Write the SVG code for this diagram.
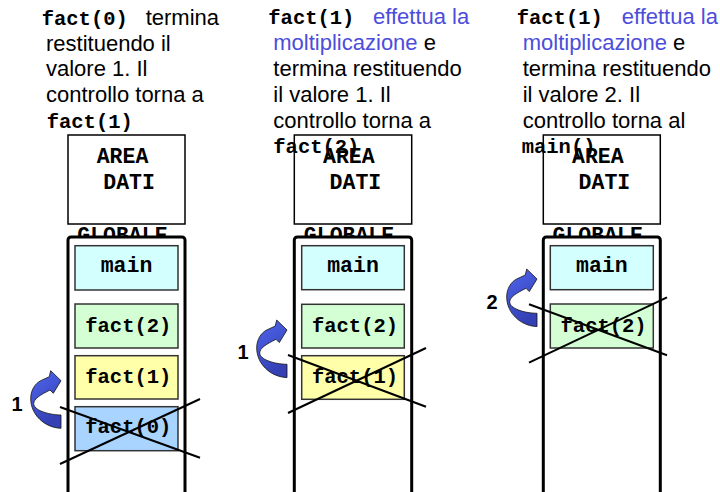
<svg xmlns="http://www.w3.org/2000/svg" width="720" height="492" viewBox="0 0 720 492">
<defs>
<linearGradient id="ag" x1="0" y1="0" x2="0.4" y2="1">
<stop offset="0" stop-color="#4f66ee"/>
<stop offset="1" stop-color="#3440b4"/>
</linearGradient>
<path id="carrow" d="M30.3,57.6 C14,57 0,44 0,28 C0,20 4,13 10,10 L18.6,6 L20,0 L30.3,10 L22.6,22.6 L19.3,19.3 C10,24 3,28 3,33 C3,39 16,44 30.3,44.3 Z" fill="url(#ag)" stroke="#111" stroke-width="0.8"/>
</defs>
<style>
.s{font-family:"Liberation Sans",Arial,sans-serif;font-size:22px;fill:#000}
.b{fill:#4d4ddb}
.m{font-family:"Liberation Mono","Courier New",monospace;font-weight:bold;font-size:20.5px;fill:#000}
.mb{font-family:"Liberation Mono","Courier New",monospace;font-weight:bold;font-size:21.5px;fill:#000}
.area{fill:#fff;stroke:#000;stroke-width:1.5}
.stack{fill:#fff;stroke:#000;stroke-width:3}
.cell{stroke:#333;stroke-width:1.5}
.x{stroke:#000;stroke-width:2}
.lbl{font-family:"Liberation Sans",Arial,sans-serif;font-weight:bold;font-size:20px;fill:#000}
</style>
<rect width="720" height="492" fill="#fff"/>

<g id="panel1">
<g id="area1"><rect class="area" x="68" y="135" width="117" height="89"/>
<text class="mb" x="96.7" y="163.3">AREA</text><text class="mb" x="103.3" y="189.3">DATI</text>
<text class="mb" x="122.4" y="242" text-anchor="middle">GLOBALE</text></g>
<g id="stack1"><rect class="stack" x="68" y="237" width="117" height="270" rx="3"/></g>
<g id="main1"><rect class="cell" x="75" y="245.7" width="103" height="44.3" fill="#d4ffff"/><text class="mb" x="126.5" y="271.7" text-anchor="middle">main</text></g>
<g id="fact2a"><rect class="cell" x="75" y="304" width="103" height="44" fill="#d4ffd4"/><text class="m" x="128.3" y="331.7" text-anchor="middle">fact(2)</text></g>
<g id="fact1a"><rect class="cell" x="75" y="355.7" width="103" height="43.3" fill="#ffffaa"/><text class="m" x="128.3" y="382.7" text-anchor="middle">fact(1)</text></g>
<g id="fact0a"><rect class="cell" x="75" y="406.7" width="103" height="44" fill="#a8d4ff"/><text class="m" x="128.3" y="433.3" text-anchor="middle">fact(0)</text></g>
<g id="note1">
<text class="m" x="41.7" y="25">fact(0)</text><text class="s" x="145.7" y="25">termina</text>
<text class="s" x="46" y="50.5">restituendo il</text>
<text class="s" x="46" y="76">valore 1. Il</text>
<text class="s" x="46" y="102">controllo torna a</text>
<text class="m" x="46.7" y="128">fact(1)</text>
</g>
<g id="cross1"><line class="x" x1="60" y1="407" x2="200" y2="457.7"/><line class="x" x1="60" y1="464" x2="200" y2="399"/></g>
</g>

<g id="panel2">
<g id="area2"><rect class="area" x="294.3" y="135" width="117.4" height="89"/>
<text class="mb" x="323" y="163.3">AREA</text><text class="mb" x="329.6" y="189.3">DATI</text>
<text class="mb" x="349" y="242" text-anchor="middle">GLOBALE</text></g>
<g id="stack2"><rect class="stack" x="294.3" y="237" width="117.4" height="270" rx="3"/></g>
<g id="main2"><rect class="cell" x="301.7" y="245.7" width="102.6" height="44" fill="#d4ffff"/><text class="mb" x="353" y="271.7" text-anchor="middle">main</text></g>
<g id="fact2b"><rect class="cell" x="301.7" y="304.3" width="102.6" height="43.7" fill="#d4ffd4"/><text class="m" x="355" y="331.7" text-anchor="middle">fact(2)</text></g>
<g id="fact1b"><rect class="cell" x="301.7" y="355.7" width="102.6" height="43.6" fill="#ffffaa"/><text class="m" x="355" y="382.7" text-anchor="middle">fact(1)</text></g>
<g id="note2">
<text class="m" x="268.3" y="24">fact(1)</text><text class="s b" x="373" y="24">effettua la</text>
<text class="s" x="273.3" y="50"><tspan class="b">moltiplicazione</tspan> e</text>
<text class="s" x="273.3" y="76">termina restituendo</text>
<text class="s" x="273.3" y="102">il valore 1. Il</text>
<text class="s" x="273.3" y="128">controllo torna a</text>
<text class="m" x="273.3" y="153">fact(2)</text>
</g>
<g id="cross2"><line class="x" x1="288" y1="355" x2="426" y2="406.7"/><line class="x" x1="288" y1="413" x2="426" y2="348"/></g>
</g>

<g id="panel3">
<g id="area3"><rect class="area" x="543.3" y="135" width="117" height="89"/>
<text class="mb" x="572" y="163.3">AREA</text><text class="mb" x="578.6" y="189.3">DATI</text>
<text class="mb" x="597.7" y="242" text-anchor="middle">GLOBALE</text></g>
<g id="stack3"><rect class="stack" x="543.3" y="237" width="117" height="270" rx="3"/></g>
<g id="main3"><rect class="cell" x="550.3" y="245.7" width="103" height="44" fill="#d4ffff"/><text class="mb" x="601.8" y="271.7" text-anchor="middle">main</text></g>
<g id="fact2c"><rect class="cell" x="550.3" y="304" width="103" height="44" fill="#d4ffd4"/><text class="m" x="603.6" y="331.7" text-anchor="middle">fact(2)</text></g>
<g id="note3">
<text class="m" x="516.7" y="24">fact(1)</text><text class="s b" x="621.7" y="24">effettua la</text>
<text class="s" x="522.7" y="50"><tspan class="b">moltiplicazione</tspan> e</text>
<text class="s" x="522.7" y="76">termina restituendo</text>
<text class="s" x="522.7" y="102">il valore 2. Il</text>
<text class="s" x="522.7" y="128">controllo torna al</text>
<text class="m" x="521.7" y="153">main()</text>
</g>
<g id="cross3"><line class="x" x1="529" y1="304.3" x2="667" y2="355.3"/><line class="x" x1="529" y1="362.7" x2="667" y2="297.3"/></g>
</g>

<g id="connectors">
<use href="#carrow" x="30.7" y="370.7"/>
<text class="lbl" x="11.5" y="410.5">1</text>
<use href="#carrow" x="256.7" y="320"/>
<text class="lbl" x="237.5" y="359">1</text>
<use href="#carrow" x="506.7" y="269"/>
<text class="lbl" x="486.5" y="308.5">2</text>
</g>
</svg>
